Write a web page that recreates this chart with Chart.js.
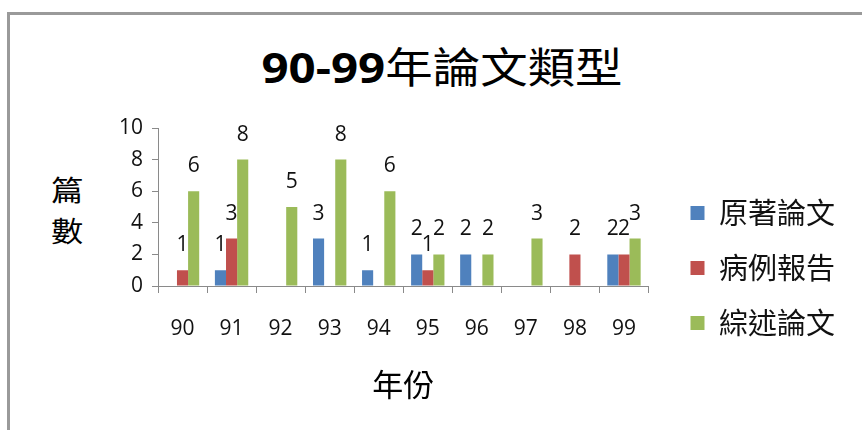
<!DOCTYPE html>
<html>
<head>
<meta charset="utf-8">
<script src="https://cdn.jsdelivr.net/npm/chart.js@4"></script>
<style>
  html, body { margin: 0; padding: 0; background: #fff; }
  #wrap { position: relative; width: 862px; height: 430px; overflow: hidden; }
  #frame { position: absolute; left: 7px; top: 12px; width: 900px; height: 500px;
           border-left: 3px solid #9a9a9a; border-top: 3px solid #9a9a9a; box-sizing: border-box; }
  #title { position: absolute; left: 11px; top: 43px; width: 862px; text-align: center;
           font-size: 42px; line-height: 44px; color: #000; white-space: nowrap;
           transform: scaleX(1.13); transform-origin: 431px 50%;
           font-family: "Noto Sans CJK TC", "Noto Sans CJK SC", sans-serif; }
  #title b { font-family: "Open Sans", sans-serif; font-weight: 700; }
  #ytitle { position: absolute; left: 52px; top: 169px; width: 30px; text-align: center;
            font-size: 28px; line-height: 41px; color: #000;
            transform: scaleX(1.15);
            font-family: "Noto Sans CJK TC", sans-serif; }
  canvas { position: absolute; left: 0; top: 0; }
</style>
</head>
<body>
<div id="wrap">
  <div id="frame"></div>
  <div id="title"><b>90-99</b>年論文類型</div>
  <div id="ytitle">篇<br>數</div>
  <canvas id="c" width="862" height="430"></canvas>
</div>
<script>
const categories = ["90", "91", "92", "93", "94", "95", "96", "97", "98", "99"];
const seriesNames = ["原著論文", "病例報告", "綜述論文"];
const originalPapers = [0, 1, 0, 3, 1, 2, 2, 0, 0, 2];
const caseReports    = [1, 3, 0, 0, 0, 1, 0, 0, 2, 2];
const reviewPapers   = [6, 8, 5, 8, 6, 2, 2, 3, 0, 3];
const seriesColors = ["#4F81BD", "#C0504D", "#9BBB59"];
const yTicks = [0, 2, 4, 6, 8, 10];
const xAxisTitle = "年份";

const cjk = '"Noto Sans CJK TC", "Noto Sans CJK SC", sans-serif';
const num = '"Open Sans", "Noto Sans", sans-serif';

const valueLabels = {
  id: 'valueLabels',
  afterDatasetsDraw(chart) {
    const ctx = chart.ctx;
    ctx.save();
    ctx.font = '21px ' + num;
    ctx.fillStyle = '#111';
    ctx.textAlign = 'center';
    ctx.textBaseline = 'middle';
    chart.data.datasets.forEach((ds, di) => {
      const meta = chart.getDatasetMeta(di);
      meta.data.forEach((bar, i) => {
        const v = ds.data[i];
        if (!v) return;
        ctx.fillText(String(v), bar.x, bar.y - 25);
      });
    });
    ctx.restore();
  }
};

const legendShift = {
  id: 'legendShift',
  afterLayout(chart) {
    const lg = chart.legend;
    if (!lg) return;
    const target = chart.chartArea.right + 16;
    const d = target - lg.left;
    lg.left += d; lg.right += d;
  }
};

new Chart(document.getElementById('c'), {
  type: 'bar',
  data: {
    labels: categories,
    datasets: [
      { label: seriesNames[0], data: originalPapers, backgroundColor: seriesColors[0] },
      { label: seriesNames[1], data: caseReports, backgroundColor: seriesColors[1] },
      { label: seriesNames[2], data: reviewPapers, backgroundColor: seriesColors[2] }
    ]
  },
  options: {
    responsive: false,
    animation: false,
    devicePixelRatio: 1,
    datasets: { bar: { categoryPercentage: 0.68, barPercentage: 1.0 } },
    layout: { padding: { left: 100, top: 128, right: 33, bottom: 22 } },
    plugins: {
      title: { display: false },
      tooltip: { enabled: false },
      legend: {
        position: 'right',
        align: 'center',
        labels: {
          boxWidth: 14, boxHeight: 14, padding: 26,
          color: '#111',
          font: { family: cjk, size: 29 }
        }
      }
    },
    scales: {
      x: {
        grid: { offset: true, drawOnChartArea: false, drawTicks: true, tickLength: 7, color: '#8a8a8a' },
        border: { display: true, color: '#8a8a8a', width: 1 },
        ticks: { color: '#111', font: { family: num, size: 21 }, padding: 23, maxRotation: 0 },
        title: { display: true, text: xAxisTitle, color: '#000',
                 font: { family: cjk, size: 31 }, padding: { top: 0, bottom: 5 } },
        afterFit(s) { s.height = 122; }
      },
      y: {
        min: 0, max: 10,
        afterBuildTicks(s) { s.ticks = yTicks.map(v => ({ value: v })); },
        grid: { drawOnChartArea: false, drawTicks: true, tickLength: 6, color: '#8a8a8a' },
        border: { display: true, color: '#8a8a8a', width: 1 },
        ticks: { color: '#111', font: { family: num, size: 21 }, padding: 9 },
        afterFit(s) { s.width = 58; }
      }
    }
  },
  plugins: [valueLabels, legendShift]
});
</script>
</body>
</html>
